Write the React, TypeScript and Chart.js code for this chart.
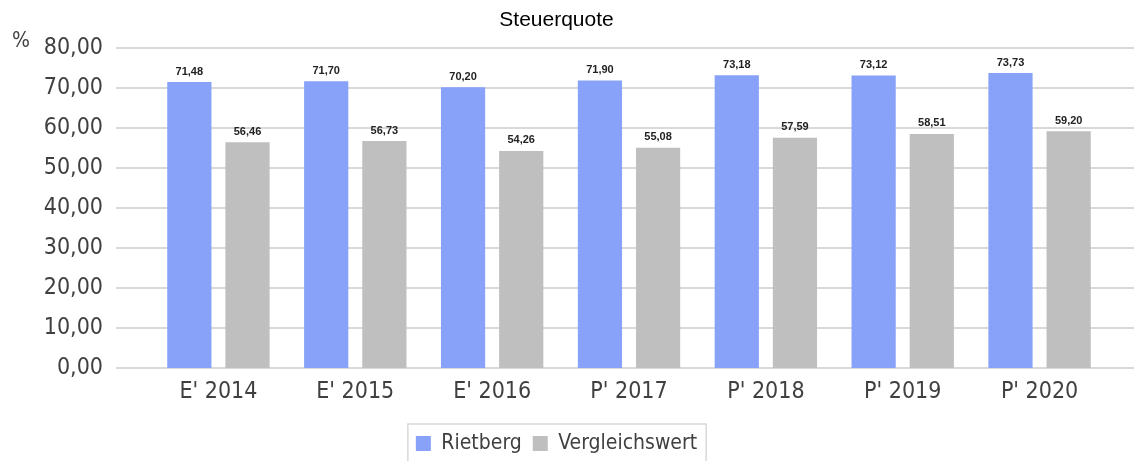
import React, { useEffect, useRef } from "react";
import { Chart, registerables } from "chart.js";

Chart.register(...registerables);

const categories: string[] = ["E' 2014", "E' 2015", "E' 2016", "P' 2017", "P' 2018", "P' 2019", "P' 2020"];
const rietberg: number[] = [71.48, 71.7, 70.2, 71.9, 73.18, 73.12, 73.73];
const vergleichswert: number[] = [56.46, 56.73, 54.26, 55.08, 57.59, 58.51, 59.2];
const seriesNames: string[] = ["Rietberg", "Vergleichswert"];
const chartTitle = "Steuerquote";
const unitLabel = "%";

const AXIS_FONT = "'DejaVu Sans Condensed', 'Open Sans', sans-serif";
const fmt = (v: number) => v.toFixed(2).replace(".", ",");

const gridPlugin = {
  id: "extGrid",
  beforeDatasetsDraw(chart: any) {
    const { ctx } = chart;
    const y = chart.scales.y;
    ctx.save();
    ctx.strokeStyle = "#d9d9d9";
    ctx.lineWidth = 2;
    y.ticks.forEach((_t: any, i: number) => {
      const py = Math.round(y.getPixelForTick(i));
      ctx.beginPath();
      ctx.moveTo(116, py);
      ctx.lineTo(1134, py);
      ctx.stroke();
    });
    ctx.restore();
  },
};

const labelPlugin = {
  id: "valueLabels",
  afterDatasetsDraw(chart: any) {
    const { ctx } = chart;
    ctx.save();
    ctx.font = "bold 11px 'Liberation Sans', Arial, sans-serif";
    ctx.fillStyle = "#222222";
    ctx.textAlign = "center";
    ctx.textBaseline = "bottom";
    chart.data.datasets.forEach((ds: any, di: number) => {
      const meta = chart.getDatasetMeta(di);
      meta.data.forEach((el: any, i: number) => {
        ctx.fillText(fmt(ds.data[i]), el.x, el.y - 5);
      });
    });
    ctx.font = `21px ${AXIS_FONT}`;
    ctx.fillStyle = "#404040";
    ctx.textAlign = "left";
    ctx.textBaseline = "middle";
    ctx.fillText(unitLabel, 12, 42);
    ctx.restore();
  },
  afterDraw(chart: any) {
    const lg = chart.legend;
    if (!lg || !lg.legendHitBoxes || !lg.legendHitBoxes.length) return;
    const boxes = lg.legendHitBoxes;
    const first = boxes[0];
    const last = boxes[boxes.length - 1];
    const { ctx } = chart;
    ctx.save();
    ctx.strokeStyle = "#d9d9d9";
    ctx.lineWidth = 1.5;
    const left = first.left - 8;
    const right = last.left + last.width + 9;
    const top = first.top - 9;
    ctx.strokeRect(left, top, right - left, chart.height - top + 5);
    ctx.restore();
  },
};

export default function App() {
  const ref = useRef<HTMLCanvasElement | null>(null);
  useEffect(() => {
    if (!ref.current) return;
    const chart = new Chart(ref.current, {
      type: "bar",
      data: {
        labels: categories,
        datasets: [
          {
            label: seriesNames[0],
            data: rietberg,
            backgroundColor: "#87a2f8",
            categoryPercentage: 0.85,
            barPercentage: 0.76,
          },
          {
            label: seriesNames[1],
            data: vergleichswert,
            backgroundColor: "#bfbfbf",
            categoryPercentage: 0.85,
            barPercentage: 0.76,
          },
        ],
      },
      options: {
        animation: false,
        responsive: true,
        maintainAspectRatio: false,
        layout: { padding: { left: 5, right: 28, top: 0, bottom: -3 } },
        plugins: {
          title: {
            display: true,
            text: chartTitle,
            color: "#000000",
            font: { family: "'Liberation Sans', Arial, sans-serif", size: 21, weight: "normal" },
            padding: { top: 8, bottom: 14.8 },
          },
          legend: {
            position: "bottom",
            labels: {
              color: "#404040",
              font: { family: AXIS_FONT, size: 21 },
              boxWidth: 15,
              boxHeight: 15,
              padding: 11,
            },
          },
          tooltip: { enabled: false },
        },
        scales: {
          x: {
            afterFit: (s: any) => {
              s.height = 54;
            },
            grid: { display: false, drawTicks: false },
            border: { display: false },
            ticks: { color: "#404040", font: { family: AXIS_FONT, size: 23 }, padding: 10, maxRotation: 0 },
          },
          y: {
            min: 0,
            max: 80,
            afterFit: (s: any) => {
              s.width = 145;
              s.paddingTop = 0;
              s.paddingBottom = 0;
            },
            grid: { display: false, drawTicks: false },
            border: { display: false },
            ticks: {
              stepSize: 10,
              color: "#404040",
              font: { family: AXIS_FONT, size: 23 },
              padding: 47,
              callback: (v: any) => fmt(Number(v)),
            },
          },
        },
      },
      plugins: [gridPlugin, labelPlugin],
    });
    return () => chart.destroy();
  }, []);
  return (
    <div style={{ position: "absolute", left: 0, top: 0, width: 1136, height: 461, background: "#fff" }}>
      <canvas ref={ref} />
    </div>
  );
}
